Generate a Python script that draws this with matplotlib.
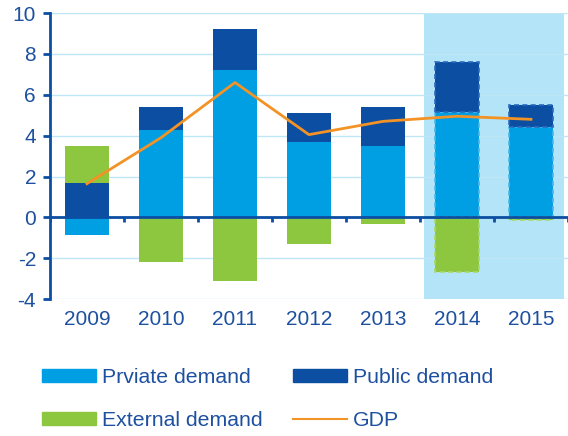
import matplotlib
matplotlib.use("Agg")
import matplotlib.pyplot as plt
from matplotlib.patches import Patch
from matplotlib.lines import Line2D
import numpy as np

years = ["2009", "2010", "2011", "2012", "2013", "2014", "2015"]
private = [-0.85, 4.3, 7.2, 3.7, 3.5, 5.15, 4.4]
public = [1.7, 1.1, 2.0, 1.4, 1.9, 2.45, 1.1]
external = [1.8, -2.2, -3.1, -1.3, -0.3, -2.65, -0.15]
gdp = [1.65, 3.9, 6.6, 4.05, 4.7, 4.95, 4.8]
forecast = [False, False, False, False, False, True, True]

C_PRIV = "#009FE3"
C_PUB = "#0B4EA2"
C_EXT = "#8DC63F"
C_GDP = "#F39325"
C_SHADE = "#B4E4F7"
C_TEXT = "#1E50A0"
C_GRID = "#BFE6F7"

plt.rcParams['font.family'] = ['Liberation Sans', 'DejaVu Sans']
plt.rcParams['axes.unicode_minus'] = False

fig = plt.figure(figsize=(5.68, 4.36), dpi=100)
ax = fig.add_axes([0.088, 0.314, 0.912, 0.656])

x = np.arange(len(years))
w = 0.6

ax.axvspan(4.55, 6.45, color=C_SHADE, zorder=0, lw=0)

pos_base = np.zeros(len(x))
neg_base = np.zeros(len(x))

def stack(vals, color, edge):
    for i, v in enumerate(vals):
        if v >= 0:
            b = pos_base[i]
            pos_base[i] += v
        else:
            b = neg_base[i]
            neg_base[i] += v
        if forecast[i]:
            ax.bar(x[i], v, w, bottom=b, color=color, edgecolor=edge,
                   linestyle=(0, (3, 2)), linewidth=1.2, zorder=3)
        else:
            ax.bar(x[i], v, w, bottom=b, color=color, linewidth=0, zorder=3)

stack(private, C_PRIV, "#4CB8EA")
stack(public, C_PUB, "#2A6CC0")
stack(external, C_EXT, "#A9D76A")

ax.plot(x, gdp, color=C_GDP, lw=2, zorder=5)

ax.axhline(0, color=C_PUB, lw=2, zorder=4)
ax.vlines(np.arange(-0.5, 6.6, 1.0), -0.22, 0, color=C_PUB, lw=2, zorder=4)

ax.set_xlim(-0.5, 6.5)
ax.set_ylim(-4, 10)
ax.set_yticks(np.arange(-4, 11, 2))
ax.yaxis.grid(True, color=C_GRID, lw=1)
ax.set_axisbelow(True)
ax.set_xticks(x)
ax.set_xticklabels(years)
ax.tick_params(axis='x', length=0, pad=8, labelsize=15, labelcolor=C_TEXT)
ax.tick_params(axis='y', length=5, width=2, color=C_PUB, labelsize=15,
               labelcolor=C_TEXT, pad=5)
for s in ['top', 'right', 'bottom']:
    ax.spines[s].set_visible(False)
ax.spines['left'].set_color(C_PUB)
ax.spines['left'].set_linewidth(2)

handles = [Patch(color=C_PRIV), Patch(color=C_PUB), Patch(color=C_EXT),
           Line2D([], [], color=C_GDP, lw=1.5)]
labels = ["Prviate demand", "Public demand", "External demand", "GDP"]
order = [0, 2, 1, 3]
leg = fig.legend([handles[i] for i in order], [labels[i] for i in order],
                 ncol=2, loc='upper left', bbox_to_anchor=(0.04, 0.2),
                 frameon=False, fontsize=15.3, handlelength=2.55, handleheight=0.55,
                 handletextpad=0.3, columnspacing=1.4, labelspacing=1.15)
for t in leg.get_texts():
    t.set_color(C_TEXT)

fig.savefig("out.png", dpi=100)
